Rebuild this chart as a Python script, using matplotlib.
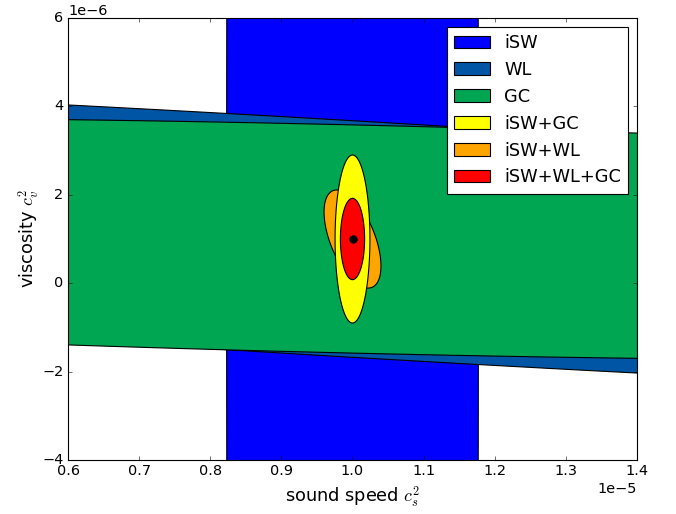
import matplotlib
matplotlib.use('Agg')
import matplotlib.pyplot as plt
import numpy as np

plt.style.use('classic')
plt.rcParams['font.size'] = 13

# forecast contours: centre, half extents along each axis and correlation
labels = ['iSW', 'WL', 'GC', 'iSW+GC', 'iSW+WL', 'iSW+WL+GC']
colors = ['#0000ff', '#0055a5', '#00a651', '#ffff00', '#ffa500', '#ff0000']
center_cs2 = 1.0e-5
center_cv2 = 1.0e-6
half_cs2 = [0.177e-5, 3.0e-5, 2.5e-5, 0.0245e-5, 0.040e-5, 0.017e-5]
half_cv2 = [100e-6, 3.91e-6, 2.75e-6, 1.9e-6, 1.11e-6, 0.92e-6]
rho = [0.0, -0.729, -0.345, 0.0, -0.55, 0.0]
draw_order = [0, 1, 2, 4, 3, 5]


def ellipse_xy(cx, cy, ax_half, ay_half, r, n=600):
    t = np.linspace(0, 2*np.pi, n)
    x = cx + ax_half*np.cos(t)
    y = cy + ay_half*(r*np.cos(t) + np.sqrt(1 - r**2)*np.sin(t))
    return x, y


fig = plt.figure(figsize=(676/80., 514/80.), dpi=80)
ax = fig.add_axes([68/676., 1 - 460/514., 569/676., 442/514.])

handles = {}
for i in draw_order:
    x, y = ellipse_xy(center_cs2, center_cv2, half_cs2[i], half_cv2[i], rho[i])
    h = ax.fill(x, y, facecolor=colors[i], edgecolor='k', lw=1, label=labels[i])
    handles[i] = h[0]

ax.plot(center_cs2, center_cv2, 'ko', ms=7)

ax.set_xlim(0.6e-5, 1.4e-5)
ax.set_ylim(-4e-6, 6e-6)
ax.ticklabel_format(style='sci', scilimits=(-3, 4))
ax.set_xlabel(r'sound speed $c_s^2$', fontsize=16)
ax.set_ylabel(r'viscosity $c_v^2$', fontsize=16, labelpad=1)
ax.legend([handles[i] for i in range(len(labels))], labels, loc=1, fontsize=16)

fig.savefig('out.png', dpi=80)
